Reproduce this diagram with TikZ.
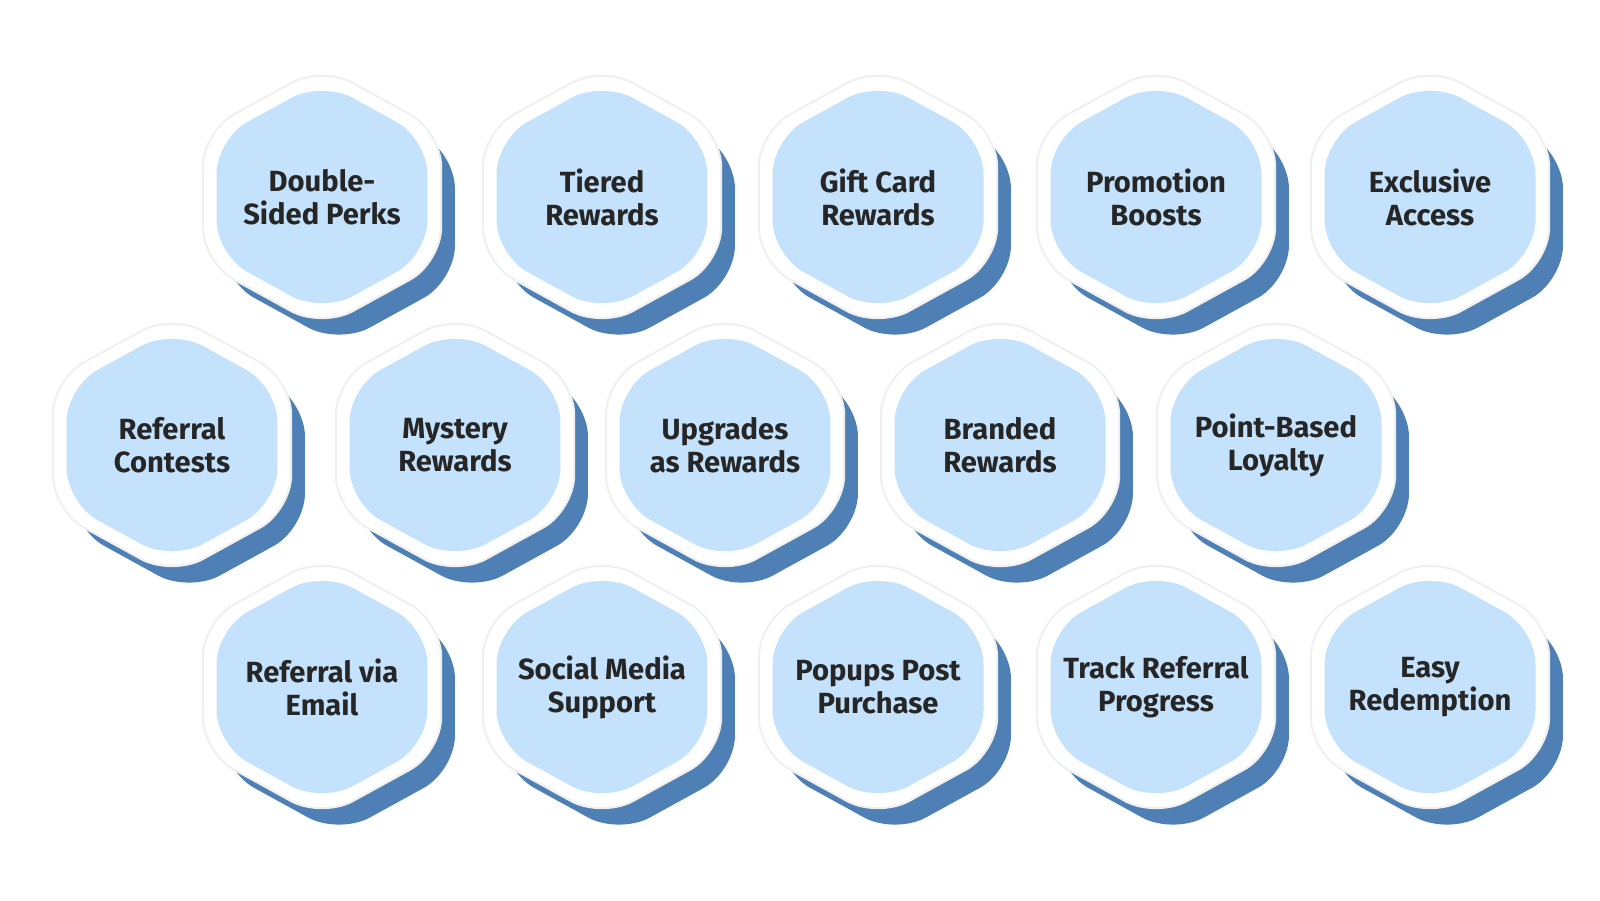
\documentclass[tikz,border=0pt]{standalone}
\usepackage{fontspec}
\setmainfont{Fira Sans}
\usetikzlibrary{shapes.geometric,calc}
\definecolor{hexfill}{HTML}{C4E2FB}
\definecolor{hexshadow}{HTML}{2F6AA8}
\newcommand{\hexitem}[4]{%
  \node[hexshade] at ($(#2,#3)+(0.17,-0.2)$) {};
  \node[hexrim] at (#2,#3) {};
  \node[hexbox] at (#2,#3) {};
  \node[hextext] (#1) at (#2,#3) {#4};
}
\begin{document}
\begin{tikzpicture}[
    hexshape/.style={regular polygon, regular polygon sides=6, shape border rotate=30,
        rounded corners=10pt, inner sep=0pt, xscale=1.05, transform shape},
    hexshade/.style={hexshape, minimum size=2.55cm, fill=hexshadow, opacity=0.85},
    hexrim/.style={hexshape, minimum size=2.62cm, fill=white, draw=black!6, line width=0.6pt},
    hexbox/.style={hexshape, minimum size=2.32cm, fill=hexfill},
    hextext/.style={align=center, inner sep=0pt,
        font=\fontsize{8.3}{9.4}\selectfont\bfseries, text=black!85},
]
\useasboundingbox (0,0) rectangle (16,9);

% top row
\hexitem{doublesided}{3.22}{7.03}{Double-\\Sided Perks}
\hexitem{tiered}{6.02}{7.03}{Tiered\\Rewards}
\hexitem{giftcard}{8.78}{7.03}{Gift Card\\Rewards}
\hexitem{promotion}{11.56}{7.03}{Promotion\\Boosts}
\hexitem{exclusive}{14.3}{7.03}{Exclusive\\Access}

% middle row
\hexitem{contests}{1.72}{4.55}{Referral\\Contests}
\hexitem{mystery}{4.55}{4.55}{Mystery\\Rewards}
\hexitem{upgrades}{7.25}{4.55}{Upgrades\\as Rewards}
\hexitem{branded}{10.0}{4.55}{Branded\\Rewards}
\hexitem{pointbased}{12.76}{4.55}{Point-Based\\Loyalty}

% bottom row
\hexitem{email}{3.22}{2.13}{Referral via\\Email}
\hexitem{social}{6.02}{2.13}{Social Media\\Support}
\hexitem{popups}{8.78}{2.13}{Popups Post\\Purchase}
\hexitem{track}{11.56}{2.13}{Track Referral\\Progress}
\hexitem{redemption}{14.3}{2.13}{Easy\\Redemption}
\end{tikzpicture}
\end{document}
